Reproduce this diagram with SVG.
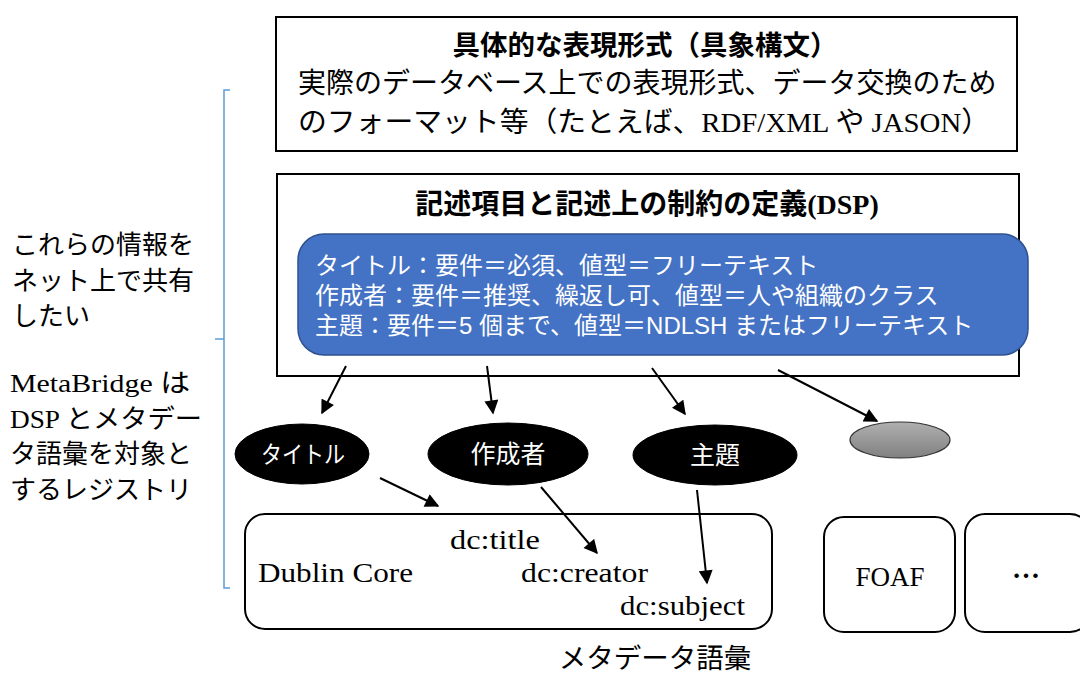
<svg xmlns="http://www.w3.org/2000/svg" width="1080" height="675" viewBox="0 0 1080 675">
<defs>
<style>
.box{fill:#fff;stroke:#000;stroke-width:2}
.serif{font-family:"Liberation Serif","Noto Sans CJK JP",serif;fill:#000}
.sans{font-family:"Liberation Sans","Noto Sans CJK JP",sans-serif}
.wt{fill:#fff}
.conn{stroke:#000;stroke-width:2;fill:none;marker-end:url(#ah)}
.ell{fill:#000;stroke:#000}
</style>
<marker id="ah" viewBox="0 0 10 10" refX="9" refY="5" markerWidth="7.5" markerHeight="7" orient="auto" markerUnits="strokeWidth">
<path d="M0,0 L10,5 L0,10 z" fill="#000"/>
</marker>
<linearGradient id="gray" x1="0" y1="0" x2="0" y2="1">
<stop offset="0" stop-color="#b0b0b0"/>
<stop offset="1" stop-color="#808080"/>
</linearGradient>
</defs>
<rect width="1080" height="675" fill="#fff"/>

<g id="bracket" fill="none" stroke="#5B9BD5" stroke-width="1.5">
<path d="M230 90 L224 90 L224 588 L230 588"/>
<path d="M224 339 L215 339"/>
</g>

<g id="left-text" class="serif" font-size="26">
<text x="12" y="254">これらの情報を</text>
<text x="12" y="290">ネット上で共有</text>
<text x="12" y="325">したい</text>
<text x="10" y="392" textLength="180" lengthAdjust="spacingAndGlyphs">MetaBridge は</text>
<text x="10" y="428" textLength="192" lengthAdjust="spacingAndGlyphs">DSP とメタデー</text>
<text x="10" y="463">タ語彙を対象と</text>
<text x="10" y="499">するレジストリ</text>
</g>

<g id="concrete-syntax">
<rect class="box" x="276" y="17" width="741" height="134"/>
<text class="serif" x="645" y="55" font-size="27.5" font-weight="bold" text-anchor="middle">具体的な表現形式（具象構文）</text>
<text class="serif" x="298" y="93" font-size="28">実際のデータベース上での表現形式、データ交換のため</text>
<text class="serif" x="298" y="132" font-size="28" textLength="692" lengthAdjust="spacingAndGlyphs">のフォーマット等（たとえば、RDF/XML や JASON）</text>
</g>

<g id="dsp">
<rect class="box" x="277" y="174" width="742" height="202"/>
<text class="serif" x="647" y="214" font-size="28" font-weight="bold" text-anchor="middle">記述項目と記述上の制約の定義(DSP)</text>
</g>

<g id="dsp-items">
<rect x="298" y="234" width="730" height="121" rx="26" fill="#4472C4" stroke="#2F528F" stroke-width="1.5"/>
<text class="sans wt" x="315" y="274" font-size="24">タイトル：要件＝必須、値型＝フリーテキスト</text>
<text class="sans wt" x="315" y="304" font-size="24">作成者：要件＝推奨、繰返し可、値型＝人や組織のクラス</text>
<text class="sans wt" x="315" y="334" font-size="24">主題：要件＝5 個まで、値型＝NDLSH またはフリーテキスト</text>
</g>

<g id="node-title">
<ellipse class="ell" cx="302" cy="454" rx="67" ry="30"/>
<text class="sans wt" x="303" y="463" font-size="24" text-anchor="middle" textLength="84" lengthAdjust="spacingAndGlyphs">タイトル</text>
</g>
<g id="node-creator">
<ellipse class="ell" cx="508" cy="454" rx="80" ry="31"/>
<text class="sans wt" x="508" y="463" font-size="25" text-anchor="middle">作成者</text>
</g>
<g id="node-subject">
<ellipse class="ell" cx="715" cy="455" rx="82" ry="30"/>
<text class="sans wt" x="715" y="464" font-size="25" text-anchor="middle">主題</text>
</g>
<g id="node-other">
<ellipse cx="900" cy="440" rx="50" ry="18" fill="url(#gray)" stroke="#333" stroke-width="1.2"/>
</g>

<g id="dublin-core">
<rect class="box" x="245" y="514" width="527" height="115" rx="20"/>
<text class="serif" x="450" y="549" font-size="27" textLength="90" lengthAdjust="spacingAndGlyphs">dc:title</text>
<text class="serif" x="258" y="582" font-size="27" textLength="155" lengthAdjust="spacingAndGlyphs">Dublin Core</text>
<text class="serif" x="521" y="582" font-size="27" textLength="127" lengthAdjust="spacingAndGlyphs">dc:creator</text>
<text class="serif" x="620" y="615" font-size="27" textLength="125" lengthAdjust="spacingAndGlyphs">dc:subject</text>
</g>

<g id="foaf">
<rect class="box" x="824" y="517" width="131" height="115" rx="20"/>
<text class="serif" x="890" y="586" font-size="27" text-anchor="middle">FOAF</text>
</g>

<g id="more">
<rect class="box" x="965" y="514" width="125" height="118" rx="20"/>
<text class="serif" x="1026" y="578" font-size="28" font-weight="bold" text-anchor="middle">…</text>
</g>

<g id="vocab-label">
<text class="serif" x="655" y="668" font-size="27.5" text-anchor="middle">メタデータ語彙</text>
</g>

<g id="connectors">
<line class="conn" x1="346" y1="366" x2="322" y2="413"/>
<line class="conn" x1="487" y1="366" x2="493" y2="413"/>
<line class="conn" x1="652" y1="368" x2="685" y2="414"/>
<line class="conn" x1="778" y1="370" x2="877" y2="421"/>
<line class="conn" x1="380" y1="478" x2="438" y2="506"/>
<line class="conn" x1="541" y1="487" x2="597" y2="553"/>
<line class="conn" x1="697" y1="490" x2="707" y2="583"/>
</g>
</svg>
